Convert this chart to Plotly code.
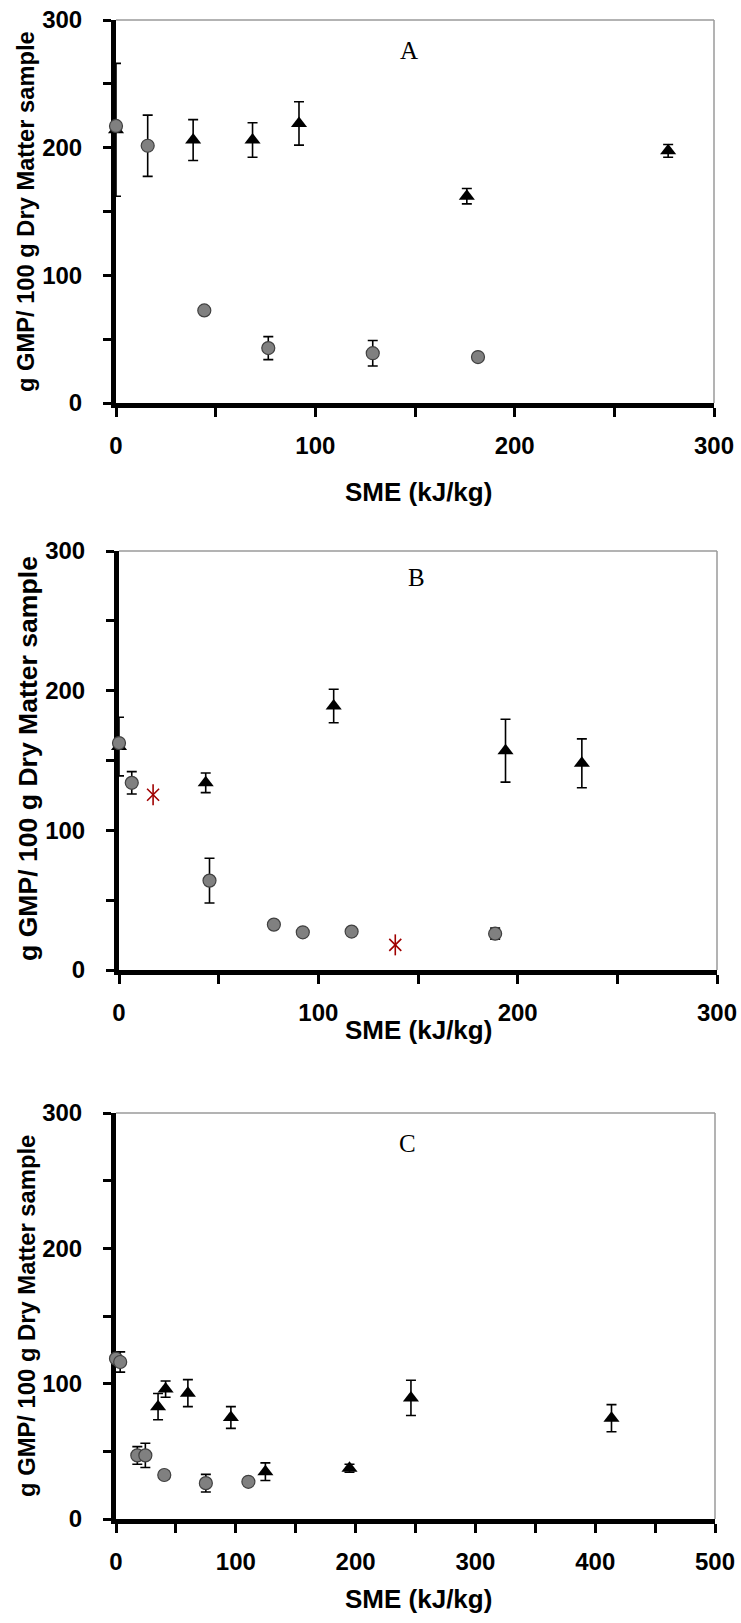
import plotly.graph_objects as go

W, H = 741, 1623

# ---------------- data ----------------
# Panel A
triA_x = [0, 38.7, 68.5, 91.8, 176, 277]
triA_y = [214, 206, 206, 219, 162, 197.5]
triA_e = [52, 16, 13.5, 17, 6, 5]
cirA_x = [0, 15.9, 44.3, 76.4, 128.8, 181.6]
cirA_y = [217, 201.5, 72.5, 43, 39, 36]
cirA_e = [0, 24, 0, 9, 10, 0]

# Panel B
triB_x = [0, 43.5, 107.7, 193.9, 232.2]
triB_y = [160, 134, 189, 157, 148]
triB_e = [21, 7, 12, 22.5, 17.5]
cirB_x = [0, 6.4, 45.4, 77.7, 92.2, 116.7, 188.7]
cirB_y = [162.5, 134, 64, 32.5, 27, 27.5, 26]
cirB_e = [0, 8, 16, 0, 0, 0, 4]
astB_x = [17.1, 138.6]
astB_y = [125.5, 18]

# Panel C
triC_x = [35.1, 41.4, 60, 95.9, 124.7, 194.9, 246.2, 413.6]
triC_y = [83, 96, 93, 75, 35, 37.5, 89.5, 74.5]
triC_e = [9.7, 6, 10, 8, 6.5, 3, 13, 10]
cirC_x = [0, 3.5, 17.8, 24.5, 40.3, 75, 110.5]
cirC_y = [118.5, 116, 47, 47, 32.5, 26.5, 27.5]
cirC_e = [5, 7.5, 6.5, 9, 3, 6.5, 0]

letters = ["A", "B", "C"]
x_ranges = [300, 300, 500]
x_tick_step = [50, 50, 50]
x_label_step = [100, 100, 100]
y_tickvals = [0, 50, 100, 150, 200, 250, 300]
y_ticktext = ["0", "", "100", "", "200", "", "300"]
x_title = "SME (kJ/kg)"
y_title = "g GMP/ 100 g Dry Matter sample"

# ---------------- layout geometry (pixels) ----------------
# (left, right, top, bottom)
boxes = [(116, 714, 20, 403), (119, 717, 551, 970), (116, 715, 1113, 1519)]
letter_pos = [(409, 50), (416, 578), (407, 1143)]
xtitle_pos = [(418, 492), (418, 1030), (418, 1599)]
ytitle_pos = [(26, 212), (28, 759), (26, 1316)]
ytitle_size = [23.7, 26.6, 23.8]

def px(x):
    return x / W

def py(y):
    return 1 - y / H

fig = go.Figure()

tick_font = dict(family="Liberation Sans, Arial", size=24, color="black", weight="bold")

data = [
    (triA_x, triA_y, triA_e, cirA_x, cirA_y, cirA_e, None, None),
    (triB_x, triB_y, triB_e, cirB_x, cirB_y, cirB_e, astB_x, astB_y),
    (triC_x, triC_y, triC_e, cirC_x, cirC_y, cirC_e, None, None),
]

shapes = []
annotations = []
for i, (tx, ty, te, cx, cy, ce, ax_, ay_) in enumerate(data):
    n = "" if i == 0 else str(i + 1)
    xr, yr = "x" + n, "y" + n
    err_style = dict(type="data", visible=True, color="black", thickness=1.6, width=5)
    fig.add_trace(go.Scatter(
        x=tx, y=ty, mode="markers", xaxis=xr, yaxis=yr, cliponaxis=False,
        marker=dict(symbol="triangle-up", size=14, color="black"),
        error_y=dict(array=te, **err_style), showlegend=False))
    fig.add_trace(go.Scatter(
        x=cx, y=cy, mode="markers", xaxis=xr, yaxis=yr, cliponaxis=False,
        marker=dict(symbol="circle", size=13, color="#808080",
                    line=dict(color="#404040", width=1.2)),
        error_y=dict(array=ce, **err_style), showlegend=False))
    if ax_ is not None:
        fig.add_trace(go.Scatter(
            x=ax_, y=ay_, mode="markers", xaxis=xr, yaxis=yr, cliponaxis=False,
            marker=dict(symbol="x-thin-open", size=12, color="#A00000",
                        line=dict(color="#A00000", width=1.6)), showlegend=False))
        fig.add_trace(go.Scatter(
            x=ax_, y=ay_, mode="markers", xaxis=xr, yaxis=yr, cliponaxis=False,
            marker=dict(symbol="line-ns-open", size=15, color="#A00000",
                        line=dict(color="#A00000", width=1.6)), showlegend=False))

    l, r, t, b = boxes[i]
    xmax = x_ranges[i]
    xtv = list(range(0, xmax + 1, x_tick_step[i]))
    xtt = [str(v) if v % x_label_step[i] == 0 else "" for v in xtv]
    fig.layout["xaxis" + n] = dict(
        domain=[px(l), px(r)], range=[0, xmax], anchor=yr, automargin=False,
        tickvals=xtv, ticktext=xtt, ticks="outside", ticklen=9, tickwidth=3,
        tickcolor="black", showline=True, linewidth=5, linecolor="black",
        showgrid=False, zeroline=False, tickfont=tick_font,
        ticklabelstandoff=8, layer="below traces", fixedrange=True)
    fig.layout["yaxis" + n] = dict(
        domain=[py(b), py(t)], range=[0, 300], anchor=xr, automargin=False,
        tickvals=y_tickvals, ticktext=y_ticktext, ticks="outside", ticklen=8,
        tickwidth=3, tickcolor="black", showline=True, linewidth=5,
        linecolor="black", showgrid=False, zeroline=False, tickfont=tick_font,
        ticklabelstandoff=16, layer="below traces", fixedrange=True)

    shapes.append(dict(type="line", xref=xr + " domain", yref=yr + " domain",
                       x0=0, x1=1, y0=1, y1=1, line=dict(color="#9a9a9a", width=1.5)))
    shapes.append(dict(type="line", xref=xr + " domain", yref=yr + " domain",
                       x0=1, x1=1, y0=0, y1=1, line=dict(color="#9a9a9a", width=1.5)))

    lx, ly = letter_pos[i]
    annotations.append(dict(text=letters[i], x=px(lx), y=py(ly), xref="paper", yref="paper",
                            showarrow=False, xanchor="center", yanchor="middle",
                            font=dict(family="Liberation Serif, Times New Roman", size=25, color="black")))
    tx_, ty_ = xtitle_pos[i]
    annotations.append(dict(text=x_title, x=px(tx_), y=py(ty_), xref="paper", yref="paper",
                            showarrow=False, xanchor="center", yanchor="middle",
                            font=dict(family="Liberation Sans, Arial", size=26, color="black", weight="bold")))
    yx_, yy_ = ytitle_pos[i]
    annotations.append(dict(text=y_title, x=px(yx_), y=py(yy_), xref="paper", yref="paper",
                            showarrow=False, xanchor="center", yanchor="middle", textangle=-90,
                            font=dict(family="Liberation Sans, Arial", size=ytitle_size[i], color="black", weight="bold")))

fig.update_layout(width=W, height=H,
                  margin=dict(l=0, r=0, t=0, b=0, pad=0, autoexpand=False),
                  paper_bgcolor="white", plot_bgcolor="white",
                  shapes=shapes, annotations=annotations, showlegend=False)

fig.write_html("out.html", config={"displayModeBar": False})
